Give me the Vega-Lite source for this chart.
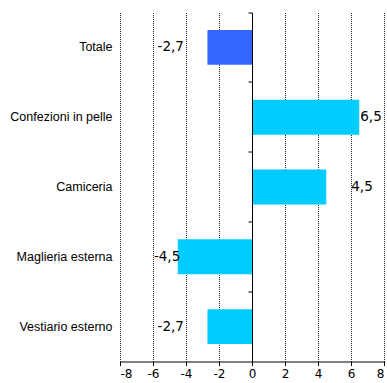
{
  "$schema": "https://vega.github.io/schema/vega-lite/v6.json",
  "autosize": {"type": "none"},
  "padding": {"left": 120, "top": 12.5, "right": 3, "bottom": 21.5},
  "width": 264,
  "height": 349,
  "background": "white",
  "config": {
    "view": {"stroke": null},
    "locale": {"number": {"decimal": ",", "thousands": ".", "grouping": [3], "currency": ["", " €"], "minus": "-"}}
  },
  "data": {
    "values": [
      {"categoria": "Totale", "variazione": -2.7},
      {"categoria": "Confezioni in pelle", "variazione": 6.5},
      {"categoria": "Camiceria ", "variazione": 4.5},
      {"categoria": "Maglieria esterna", "variazione": -4.5},
      {"categoria": "Vestiario esterno", "variazione": -2.7}
    ]
  },
  "encoding": {
    "x": {
      "field": "variazione",
      "type": "quantitative",
      "scale": {"domain": [-8, 8], "nice": false, "zero": false},
      "axis": {
        "title": null,
        "values": [-8, -6, -4, -2, 0, 2, 4, 6, 8],
        "grid": true,
        "gridColor": "#222222",
        "gridDash": [1, 1],
        "gridWidth": 1,
        "domainColor": "black",
        "domainWidth": 1,
        "tickColor": "black",
        "tickSize": 4,
        "labelFont": "DejaVu Sans",
        "labelFontSize": 12,
        "labelColor": "black",
        "labelPadding": 3
      }
    },
    "y": {
      "field": "categoria",
      "type": "nominal",
      "sort": null,
      "scale": {"paddingInner": 0, "paddingOuter": 0}
    }
  },
  "layer": [
    {
      "mark": {"type": "bar", "height": {"band": 0.5}},
      "encoding": {
        "y": {
          "field": "categoria",
          "type": "nominal",
          "sort": null,
          "axis": {
            "title": null,
            "domain": false,
            "ticks": false,
            "grid": false,
            "labelPadding": 8,
            "labelFont": "Liberation Sans",
            "labelFontSize": 12.5,
            "labelColor": "black",
            "labelLimit": 200
          }
        },
        "color": {
          "condition": {"test": "datum.categoria === 'Totale'", "value": "#3366FF"},
          "value": "#00CCFF"
        }
      }
    },
    {
      "transform": [{"filter": "datum.categoria === 'Totale' || datum.categoria === 'Vestiario esterno'"}],
      "mark": {"type": "text", "align": "right", "baseline": "middle", "dx": -23.5, "font": "DejaVu Sans", "fontSize": 13.5, "color": "black"},
      "encoding": {
        "y": {
          "field": "categoria",
          "type": "nominal",
          "sort": null,
          "axis": {
            "title": null,
            "orient": "left",
            "offset": -132,
            "labels": false,
            "grid": false,
            "domain": true,
            "domainColor": "black",
            "domainWidth": 1,
            "ticks": true,
            "tickColor": "black",
            "tickSize": 4,
            "bandPosition": 0,
            "zindex": 1
          }
        },
        "text": {"field": "variazione", "type": "quantitative", "format": ".1f"}
      }
    },
    {
      "transform": [{"filter": "datum.categoria === 'Maglieria esterna'"}],
      "mark": {"type": "text", "align": "right", "baseline": "middle", "dx": 2.5, "font": "DejaVu Sans", "fontSize": 13.5, "color": "black"},
      "encoding": {
        "y": {"field": "categoria", "type": "nominal", "sort": null, "axis": null},
        "text": {"field": "variazione", "type": "quantitative", "format": ".1f"}
      }
    },
    {
      "transform": [{"filter": "datum.categoria === 'Confezioni in pelle'"}],
      "mark": {"type": "text", "align": "left", "baseline": "middle", "dx": 1, "font": "DejaVu Sans", "fontSize": 13.5, "color": "black"},
      "encoding": {
        "y": {"field": "categoria", "type": "nominal", "sort": null, "axis": null},
        "text": {"field": "variazione", "type": "quantitative", "format": ".1f"}
      }
    },
    {
      "transform": [{"filter": "datum.categoria === 'Camiceria '"}],
      "mark": {"type": "text", "align": "left", "baseline": "middle", "dx": 25, "font": "DejaVu Sans", "fontSize": 13.5, "color": "black"},
      "encoding": {
        "y": {"field": "categoria", "type": "nominal", "sort": null, "axis": null},
        "text": {"field": "variazione", "type": "quantitative", "format": ".1f"}
      }
    }
  ],
  "resolve": {"axis": {"y": "independent"}}
}
